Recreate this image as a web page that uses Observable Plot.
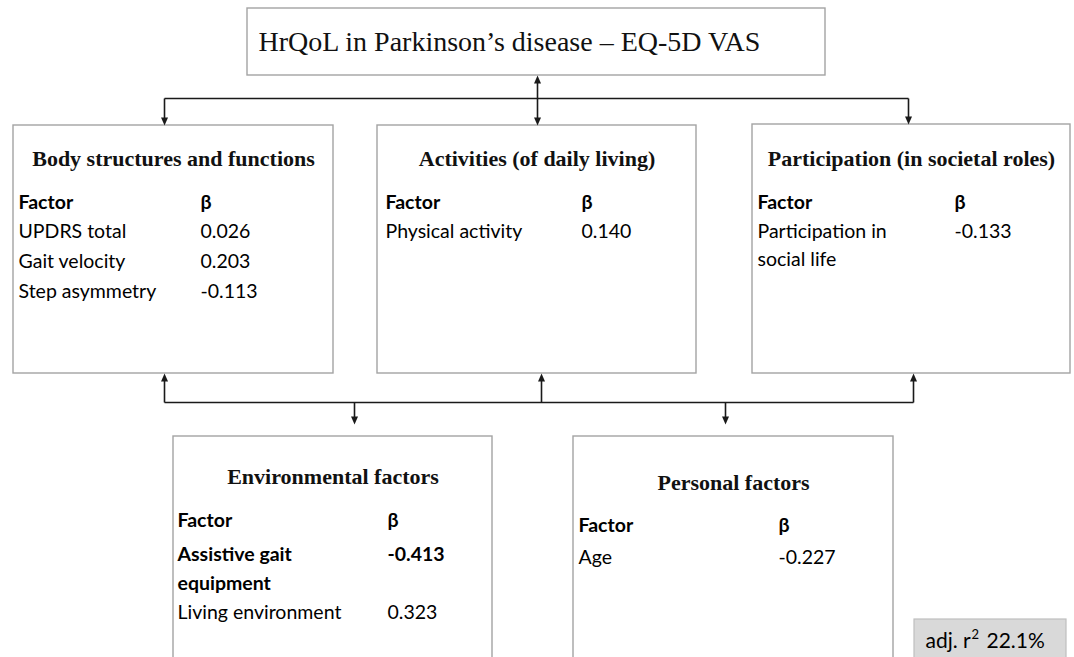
<!DOCTYPE html>
<html>
<head>
<meta charset="utf-8">
<script src="https://cdn.jsdelivr.net/npm/d3@7"></script>
<script src="https://cdn.jsdelivr.net/npm/@observablehq/plot@0.6"></script>
<style>
  html, body { margin: 0; padding: 0; background: #fff; overflow: hidden; }
  #chart svg { display: block; }
</style>
</head>
<body>
<div id="chart"></div>
<script>
// ---------------- DATA ----------------
const outcomeTitle = "HrQoL in Parkinson’s disease – EQ-5D VAS";
const domainTitles = [
  "Body structures and functions",
  "Activities (of daily living)",
  "Participation (in societal roles)",
  "Environmental factors",
  "Personal factors"
];
const columnHeads = ["Factor", "β"];
const factorDomain = [0, 0, 0, 1, 2, 3, 3, 4];
const factorNames = [
  "UPDRS total",
  "Gait velocity",
  "Step asymmetry",
  "Physical activity",
  "Participation in\nsocial life",
  "Assistive gait\nequipment",
  "Living environment",
  "Age"
];
const factorBetas = [0.026, 0.203, -0.113, 0.140, -0.133, -0.413, 0.323, -0.227];
const factorBold = [false, false, false, false, false, true, false, false];
const fitLabel = "adj. r";
const fitSup = "2";
const fitValue = "22.1%";

// ---------------- LAYOUT ----------------
const W = 1074, H = 657;
const titleBox = {x1: 247, x2: 825, y1: 8, y2: 75, tx: 258, ty: 42};
const boxes = [
  {x1: 13,  x2: 333,  y1: 125, y2: 373, head: 158, colY: 202, row0: 231, step: 30,   nameX: 18,  betaX: 200},
  {x1: 377, x2: 696,  y1: 125, y2: 373, head: 158, colY: 202, row0: 231, step: 30,   nameX: 385, betaX: 581},
  {x1: 752, x2: 1070, y1: 124, y2: 373, head: 158, colY: 202, row0: 231, step: 28.5, nameX: 757, betaX: 954},
  {x1: 173, x2: 492,  y1: 436, y2: 680, head: 476, colY: 520, row0: 554, step: 29,   nameX: 177, betaX: 387},
  {x1: 573, x2: 893,  y1: 436, y2: 680, head: 482, colY: 525, row0: 557, step: 30,   nameX: 578, betaX: 778}
];
const fitBox = {x1: 914, x2: 1066, y1: 619, y2: 680, tx: 925, ty: 641};
const topBus = {y: 98, x1: 164, x2: 908};
const botBus = {y: 402, x1: 164, x2: 913};
const segments = [
  {x1: topBus.x1, y1: topBus.y, x2: topBus.x2, y2: topBus.y},
  {x1: 164, y1: 98, x2: 164, y2: 118},
  {x1: 908, y1: 98, x2: 908, y2: 117},
  {x1: 537, y1: 82, x2: 537, y2: 118},
  {x1: botBus.x1, y1: botBus.y, x2: botBus.x2, y2: botBus.y},
  {x1: 164, y1: 402, x2: 164, y2: 380},
  {x1: 541, y1: 402, x2: 541, y2: 380},
  {x1: 913, y1: 402, x2: 913, y2: 380},
  {x1: 354, y1: 402, x2: 354, y2: 417},
  {x1: 725, y1: 402, x2: 725, y2: 417}
];
const heads = [
  {x: 164, y: 125, rot: 0}, {x: 908, y: 124, rot: 0},
  {x: 537, y: 125, rot: 0}, {x: 537, y: 75, rot: 180},
  {x: 164, y: 373, rot: 180}, {x: 541, y: 373, rot: 180}, {x: 913, y: 373, rot: 180},
  {x: 354, y: 424, rot: 0}, {x: 725, y: 424, rot: 0}
];

// arrowhead symbol: tip at origin, pointing down
const arrowHead = {
  draw(ctx) {
    ctx.moveTo(0, 0);
    ctx.lineTo(-3.5, -8);
    ctx.lineTo(3.5, -8);
    ctx.closePath();
  }
};

// derived rows (one entry per text line)
const lines = [];
const usedLines = domainTitles.map(() => 0);
factorNames.forEach((name, i) => {
  const d = factorDomain[i];
  const b = boxes[d];
  const parts = name.split("\n");
  const y0 = b.row0 + usedLines[d] * b.step;
  parts.forEach((p, k) => {
    lines.push({text: p, x: b.nameX, y: y0 + k * b.step, bold: factorBold[i]});
  });
  lines.push({text: factorBetas[i].toFixed(3), x: b.betaX, y: y0, bold: factorBold[i]});
  usedLines[d] += parts.length;
});
const colHeadRows = [];
boxes.forEach((b) => {
  colHeadRows.push({text: columnHeads[0], x: b.nameX, y: b.colY});
  colHeadRows.push({text: columnHeads[1], x: b.betaX, y: b.colY});
});
const headRows = domainTitles.map((t, i) => ({text: t, x: (boxes[i].x1 + boxes[i].x2) / 2, y: boxes[i].head}));

const serif = "'Liberation Serif', 'Times New Roman', serif";
const sans = "Lato, 'Open Sans', sans-serif";
const lineColor = "#1a1a1a";
const boxStroke = "#a3a3a3";

const chart = Plot.plot({
  width: W,
  height: H,
  margin: 0,
  x: {domain: [0, W], range: [0, W], axis: null},
  y: {domain: [0, H], range: [0, H], axis: null},
  style: {background: "#fff"},
  marks: [
    Plot.rect([titleBox, ...boxes], {x1: "x1", x2: "x2", y1: "y1", y2: "y2", fill: "#fff", stroke: boxStroke, strokeWidth: 1.4}),
    Plot.rect([fitBox], {x1: "x1", x2: "x2", y1: "y1", y2: "y2", fill: "#d9d9d9", stroke: "#bfbfbf", strokeWidth: 1.2}),
    Plot.link(segments, {x1: "x1", y1: "y1", x2: "x2", y2: "y2", stroke: lineColor, strokeWidth: 1.6}),
    Plot.dot(heads, {x: "x", y: "y", rotate: "rot", symbol: arrowHead, fill: lineColor, stroke: "none"}),
    Plot.text([titleBox], {x: "tx", y: "ty", text: () => outcomeTitle, textAnchor: "start", fontFamily: serif, fontSize: 28, fill: "#111"}),
    Plot.text(headRows, {x: "x", y: "y", text: "text", textAnchor: "middle", fontFamily: serif, fontWeight: "bold", fontSize: 22, fill: "#111"}),
    Plot.text(colHeadRows, {x: "x", y: "y", text: "text", textAnchor: "start", fontFamily: sans, fontWeight: "bold", fontSize: 19.5, fill: "#000"}),
    Plot.text(lines.filter(d => !d.bold), {x: "x", y: "y", text: "text", textAnchor: "start", fontFamily: sans, fontSize: 19.5, fill: "#000"}),
    Plot.text(lines.filter(d => d.bold), {x: "x", y: "y", text: "text", textAnchor: "start", fontFamily: sans, fontWeight: "bold", fontSize: 19.5, fill: "#000"}),
    Plot.text([fitBox], {x: "tx", y: "ty", text: () => fitLabel, textAnchor: "start", fontFamily: sans, fontSize: 21, fill: "#000"}),
    Plot.text([fitBox], {x: "tx", y: "ty", text: () => fitSup, dx: 46, dy: -7, textAnchor: "start", fontFamily: sans, fontSize: 13, fill: "#000"}),
    Plot.text([fitBox], {x: "tx", y: "ty", text: () => fitValue, dx: 61, textAnchor: "start", fontFamily: sans, fontSize: 21, fill: "#000"})
  ]
});
document.getElementById("chart").appendChild(chart);
</script>
</body>
</html>
